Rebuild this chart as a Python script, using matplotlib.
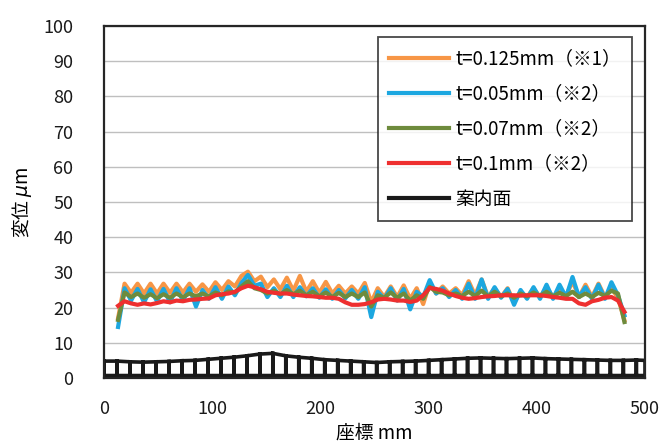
import matplotlib
matplotlib.use("Agg")
import matplotlib.pyplot as plt
import numpy as np

plt.rcParams['font.family'] = ['Noto Sans CJK JP', 'DejaVu Sans']

# --- data ---
pos_mm = [13, 19, 25, 31, 37, 43, 49, 55, 61, 67, 73, 79, 85, 91, 97, 103, 109, 115, 121, 127,
          133, 139, 145, 151, 157, 163, 169, 175, 181, 187, 193, 199, 205, 211, 217, 223, 229, 235, 241, 247,
          253, 259, 265, 271, 277, 283, 289, 295, 301, 307, 313, 319, 325, 331, 337, 343, 349, 355, 361, 367,
          373, 379, 385, 391, 397, 403, 409, 415, 421, 427, 433, 439, 445, 451, 457, 463, 469, 475, 481]

t0125 = [17, 26.8, 24.2, 26.8, 24, 26.8, 24, 26.8, 24.2, 26.8, 24.3, 26.8, 24.5, 26.6, 24.5, 27.2, 25, 27.5, 26, 29,
         30.2, 27.5, 28.8, 25.8, 28, 25.2, 28.5, 24.8, 29, 24.5, 27.5, 24.2, 27.3, 24, 26.2, 24, 26, 24, 27, 21.5,
         25.5, 23, 26, 23, 26.3, 22.5, 25.5, 21, 27, 24, 26, 24, 25.5, 23.5, 27.5, 23.5, 28, 23, 25.5, 23,
         25.5, 21.5, 24.5, 23, 25.5, 23, 25.8, 23, 25.3, 23.2, 27.5, 23, 26.5, 23, 26.8, 23, 25.5, 22.8, 16.4]

t005 = [14.5, 25.5, 22, 25.3, 21.5, 25.2, 21.8, 25.3, 21.5, 25.5, 22, 25.5, 20.3, 25, 22.5, 25.8, 22.5, 26, 23.5, 27,
        29.3, 26.2, 26.8, 23, 25.5, 23, 26.2, 23, 25.8, 23.2, 25.5, 22.8, 25.2, 22.5, 25, 22.6, 25, 22.5, 25.8, 17.3,
        24.5, 22.5, 25.5, 22, 25.3, 19.5, 24.5, 23, 27.8, 24, 25.5, 23, 25, 22.5, 26.8, 22.5, 28, 22.5, 25.8, 22.8,
        25.3, 20.8, 25, 22.5, 25.8, 22.5, 26.5, 22.5, 26.5, 23, 28.7, 23, 25.8, 22.5, 26.5, 22.5, 27.2, 23.5, 17.8]

t007 = [16.5, 24.3, 23, 24, 22.8, 23.8, 22.7, 23.8, 22.8, 24, 23, 24, 23.2, 24, 23.2, 24.3, 23.5, 24.6, 24.3, 26,
        27.5, 25.5, 25, 24, 24.8, 23.8, 25, 23.8, 24.8, 23.5, 24.5, 23.2, 24.3, 23, 24.2, 23, 24, 23, 24.3, 20.3,
        23.5, 22.8, 24.3, 22.8, 24, 22, 23.5, 22.5, 25.9, 24.5, 24.3, 23.5, 24, 23.3, 24.5, 23.3, 24.8, 23.2, 24.5, 23.2,
        24, 22.8, 24, 23.2, 24.3, 23.3, 24.5, 23.2, 24.2, 23.3, 24.5, 23, 24, 23, 24.2, 23.3, 24.8, 24, 15.9]

t01 = [20.5, 21.8, 21.2, 20.8, 21.2, 20.9, 21.3, 21.8, 21.5, 22, 21.8, 22.2, 22.3, 22.5, 22.6, 23.5, 23.8, 24, 24.5, 25.5,
       26.2, 25.8, 25.2, 24.5, 24.2, 24, 24, 23.7, 23.5, 23.3, 23.2, 23, 22.8, 22.8, 22.5, 21.5, 20.8, 20.8, 21, 21.5,
       22.3, 22.5, 22.3, 22, 22, 21.6, 22, 23.5, 25.6, 25.3, 24.8, 24, 23.3, 22.8, 22.5, 22.7, 23, 23.2, 23.3, 23.5,
       23.5, 23.5, 23.4, 23.5, 23.5, 23.5, 23.3, 23, 22.8, 22.5, 22.5, 21.2, 20.8, 21.8, 22.2, 22.8, 23, 22, 18.8]

guide_pos = [0, 12, 24, 36, 48, 60, 72, 84, 96, 108, 120, 132, 144, 156, 168, 180, 192, 204, 216, 228,
             240, 252, 264, 276, 288, 300, 312, 324, 336, 348, 360, 372, 384, 396, 408, 420, 432, 444, 456, 468,
             480, 492, 500]
guide_top = [4.8, 4.8, 4.6, 4.5, 4.6, 4.7, 4.9, 5.0, 5.3, 5.6, 5.9, 6.3, 6.8, 7.0, 6.3, 5.9, 5.6, 5.2, 5.0, 4.8,
             4.6, 4.4, 4.6, 4.7, 4.8, 5.0, 5.2, 5.4, 5.6, 5.7, 5.6, 5.5, 5.6, 5.7, 5.5, 5.4, 5.3, 5.2, 5.1, 5.0,
             5.0, 5.1, 5.0]
guide_bottom = 0.7

labels = ['t=0.125mm（※1）', 't=0.05mm（※2）', 't=0.07mm（※2）', 't=0.1mm（※2）', '案内面']
colors = ['#F79646', '#1CA7E0', '#6E8B3D', '#EE2F2F', '#1A1A1A']

# --- figure ---
fig = plt.figure(figsize=(6.62, 4.45), dpi=100)
ax = fig.add_axes([104 / 662, 1 - 378 / 445, (645 - 104) / 662, (378 - 26) / 445])

lw = 3.0
for ys, lab, c in zip([t0125, t005, t007, t01], labels[:4], colors[:4]):
    ax.plot(pos_mm, ys, color=c, lw=lw, label=lab, solid_joinstyle='round')

# guide surface trace: top profile with drops to the bottom level at each sample
gx, gy = [], []
for xv, tv in zip(guide_pos, guide_top):
    gx += [xv, xv, xv]
    gy += [tv, guide_bottom, tv]
gx += [guide_pos[-1], guide_pos[0]]
gy += [guide_bottom, guide_bottom]
ax.plot(gx, gy, color=colors[4], lw=2.6, label=labels[4], solid_joinstyle='miter')

ax.set_xlim(0, 500)
ax.set_ylim(0, 100)
ax.set_xticks(range(0, 501, 100))
ax.set_yticks(range(0, 101, 10))
ax.grid(axis='y', color='#BFBFBF', lw=1)
ax.set_axisbelow(True)
ax.tick_params(length=0, labelsize=13, colors='#1a1a1a')
ax.tick_params(axis='y', pad=22)
ax.tick_params(axis='x', pad=16)
for s in ax.spines.values():
    s.set_color('#262626')
    s.set_linewidth(1.6)

ax.set_xlabel('座標 mm', fontsize=13.5, labelpad=3)
ax.set_ylabel('変位 $\\mu$m', fontsize=13.5, labelpad=7)

leg = ax.legend(loc='upper right', bbox_to_anchor=(632 / 662, 1 - 37 / 445), bbox_transform=fig.transFigure,
                fontsize=13.5, frameon=True, fancybox=False, edgecolor='#1a1a1a',
                handlelength=3.2, handletextpad=0.3, labelspacing=0.75, borderpad=0.6, borderaxespad=0)
leg.get_frame().set_linewidth(1.3)
for h in leg.get_lines():
    h.set_linewidth(3.0)

fig.savefig('out.png', dpi=100)
